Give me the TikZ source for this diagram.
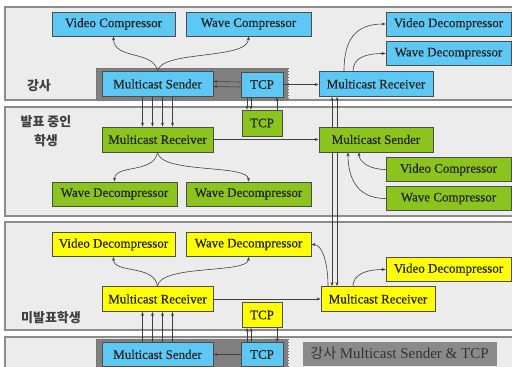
\documentclass[tikz,border=0pt]{standalone}
\usepackage{fontspec}
\setmainfont{Liberation Serif}[BoldFont={Liberation Serif}, BoldFeatures={FakeBold=0.7}]
\newfontfamily\krfont{Noto Sans CJK KR}
\usetikzlibrary{arrows.meta}
\definecolor{boxblue}{RGB}{94,200,245}
\definecolor{boxgreen}{RGB}{140,196,30}
\definecolor{boxyellow}{RGB}{255,255,0}
\definecolor{bandgray}{RGB}{236,236,236}
\definecolor{bandline}{RGB}{140,140,140}
\definecolor{tcpgray}{RGB}{128,128,128}
\definecolor{legendgray}{RGB}{138,138,138}
\begin{document}
\begin{tikzpicture}[x=1pt, y=-1pt,
    band/.style={fill=bandgray, draw=bandline, line width=1.4pt},
    box/.style={draw=black!70, line width=0.8pt, inner sep=0pt, minimum height=24pt,
      font=\fontsize{13}{15}\selectfont\bfseries, text=black!85},
    bluebox/.style={box, fill=boxblue},
    greenbox/.style={box, fill=boxgreen},
    yellowbox/.style={box, fill=boxyellow},
    grouparea/.style={fill=tcpgray, draw=black!60, dotted, line width=1pt},
    arr/.style={draw=black!75, line width=0.6pt, -{Stealth[length=4pt,width=3pt]}},
    lbl/.style={font=\krfont\fontsize{13}{19}\selectfont\bfseries, text=black!75, align=center}]
  \clip (0,0) rectangle (512,367);
  \fill[white] (0,0) rectangle (512,367);
  % bands
  \draw[band] (5,7) rectangle (530,100);
  \draw[band] (5,107) rectangle (530,216);
  \draw[band] (5,222) rectangle (530,330);
  \draw[band] (5,337) rectangle (530,390);
  \draw[grouparea] (96,68) rectangle (288,100);
  \draw[grouparea] (96,339) rectangle (288,380);

  % instructor
  \node[lbl] (teacher) at (39,86) {강사};
  \node[bluebox, minimum width=123pt] (vcompA) at (113.5,24) {Video Compressor};
  \node[bluebox, minimum width=125pt] (wcompA) at (248.5,24) {Wave Compressor};
  \node[bluebox, minimum width=125pt] (vdecA) at (448.5,24) {Video Decompressor};
  \node[bluebox, minimum width=125pt] (wdecA) at (448.5,53.5) {Wave Decompressor};
  \node[bluebox, minimum width=111pt, minimum height=25pt] (msendA) at (157.5,84) {Multicast Sender};
  \node[bluebox, minimum width=42pt, minimum height=25pt] (tcpA) at (262,84.5) {TCP};
  \node[bluebox, minimum width=114pt, minimum height=25pt] (mrecvA) at (376,84) {Multicast Receiver};

  % presenting student
  \node[lbl] (presenter) at (46,131) {발표 중인\\학생};
  \node[greenbox, minimum width=111pt, minimum height=25pt] (mrecvB) at (157.5,139.5) {Multicast Receiver};
  \node[greenbox, minimum width=40pt, minimum height=26pt] (tcpB) at (262,123) {TCP};
  \node[greenbox, minimum width=114pt, minimum height=25pt] (msendB) at (376,139.5) {Multicast Sender};
  \node[greenbox, minimum width=125pt] (wdecB) at (114.5,194) {Wave Decompressor};
  \node[greenbox, minimum width=125pt] (wdecBb) at (248.5,194) {Wave Decompressor};
  \node[greenbox, minimum width=125pt] (vcompB) at (448.5,169.5) {Video Compressor};
  \node[greenbox, minimum width=125pt] (wcompB) at (448.5,198.5) {Wave Compressor};

  % other students
  \node[lbl] (listener) at (51,318) {미발표학생};
  \node[yellowbox, minimum width=123pt] (vdecC) at (113.5,244.5) {Video Decompressor};
  \node[yellowbox, minimum width=125pt] (wdecC) at (248.5,244.5) {Wave Decompressor};
  \node[yellowbox, minimum width=111pt, minimum height=25pt] (mrecvC) at (157.5,299) {Multicast Receiver};
  \node[yellowbox, minimum width=40pt, minimum height=25pt] (tcpC) at (262,315) {TCP};
  \node[yellowbox, minimum width=114pt, minimum height=25pt] (mrecvCb) at (378,299) {Multicast Receiver};
  \node[yellowbox, minimum width=125pt] (vdecCb) at (448.5,269.5) {Video Decompressor};

  % instructor again
  \node[bluebox, minimum width=111pt] (msendD) at (157.5,354.5) {Multicast Sender};
  \node[bluebox, minimum width=42pt] (tcpD) at (262,354.5) {TCP};
  \node[fill=legendgray, inner sep=0pt, minimum width=194pt, minimum height=24pt,
    font=\fontsize{15}{17}\selectfont, text=black!80] (legend) at (399.5,353.5)
    {{\krfont\fontsize{14}{17}\selectfont 강사} Multicast Sender \& TCP};

  % connectors
  \foreach \dx in {-15,-5,5,15} {
    \draw[arr] ([xshift=\dx pt]msendA.south) -- ([xshift=\dx pt]mrecvB.north);
    \draw[arr] ([xshift=\dx pt]msendD.north) -- ([xshift=\dx pt]mrecvC.south);
  }
  \foreach \dy in {2.5,-2.5}
    \draw[arr] ([yshift=\dy pt]tcpA.west) -- ([yshift=\dy pt]msendA.east);
  \draw[arr] (tcpA.east) -- (tcpA.east -| mrecvA.west);
  \foreach \dx in {-15,-11} {
    \draw[arr] ([xshift=\dx pt]tcpA.south) -- ([xshift=\dx pt]tcpB.north);
    \draw[arr] ([xshift=\dx pt]tcpD.north) -- ([xshift=\dx pt]tcpC.south);
  }
  \draw[arr] ([xshift=15pt]tcpB.north) -- ([xshift=15pt]tcpA.south);
  \draw[arr] ([xshift=15pt]tcpC.south) -- ([xshift=15pt]tcpD.north);
  \draw[arr] (mrecvB.east) -- (msendB.west);
  \foreach \dx in {-44,-39} {
    \draw[arr] ([xshift=\dx pt]msendB.north) -- ([xshift=\dx pt]mrecvA.south);
    \draw[arr] ([xshift=\dx pt]msendB.south) -- ([xshift=\dx pt]msendB.south |- mrecvCb.north);
  }
  \draw[arr] (mrecvC.east) -- (mrecvCb.west);
  \draw[arr] (tcpD.west) -- (msendD.east);

  \draw[arr] (msendA.north) .. controls (154,50) and (113.5,60) .. (vcompA.south);
  \draw[arr] (msendA.north) .. controls (161,50) and (248.5,60) .. (wcompA.south);
  \draw[arr] ([xshift=-32pt]mrecvA.north) .. controls (344,40) and (355,24) .. (vdecA.west);
  \draw[arr] ([xshift=-23pt]mrecvA.north) .. controls (353,58) and (365,53.5) .. (wdecA.west);
  \draw[arr] (mrecvB.south) .. controls (154,174) and (114.5,164) .. (wdecB.north);
  \draw[arr] (mrecvB.south) .. controls (161,174) and (248.5,164) .. (wdecBb.north);
  \draw[arr] (vcompB.west) .. controls (370,169.5) and (359,162) .. ([xshift=-17pt]msendB.south);
  \draw[arr] (wcompB.west) .. controls (355,198.5) and (348,175) .. ([xshift=-28pt]msendB.south);
  \draw[arr] (mrecvC.north) .. controls (154,264) and (113.5,274) .. (vdecC.south);
  \draw[arr] (mrecvC.north) .. controls (161,264) and (248.5,274) .. (wdecC.south);
  \draw[arr] ([xshift=-50pt]mrecvCb.north) .. controls (328,262) and (322,244.5) .. (wdecC.east);
  \draw[arr] ([xshift=-25pt]mrecvCb.north) .. controls (353,275) and (365,269.5) .. (vdecCb.west);
\end{tikzpicture}
\end{document}
